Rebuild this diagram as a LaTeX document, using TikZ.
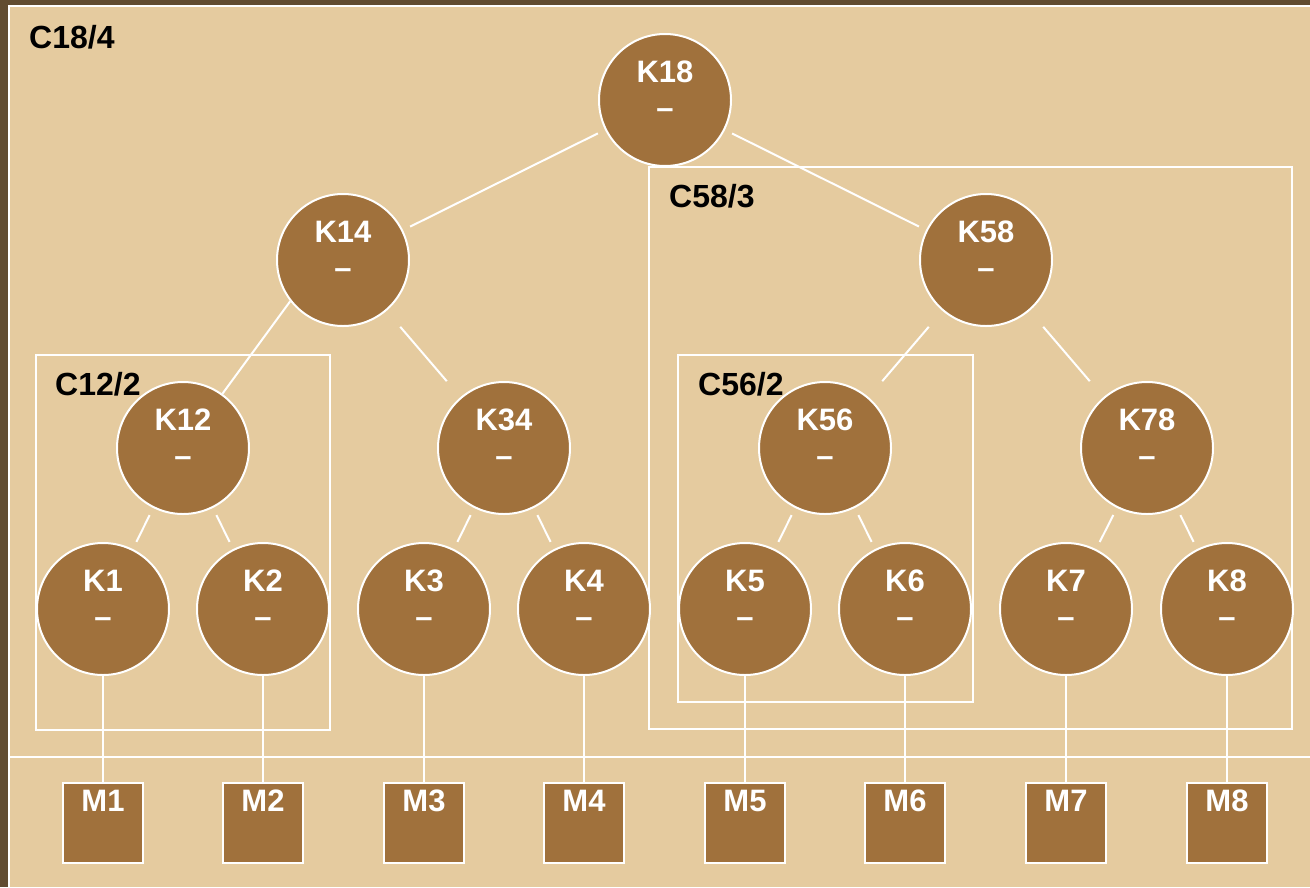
\documentclass[tikz,border=0pt]{standalone}
\usepackage{fontspec}
\setmainfont{Liberation Sans}
\usepackage{xcolor}
\usetikzlibrary{positioning}
\definecolor{bgfill}{HTML}{E5CB9F}
\definecolor{bgdraw}{HTML}{614C31}
\definecolor{knfill}{HTML}{A0713C}
\tikzset{
  knot/.style={circle, draw=white, fill=knfill, line width=2pt, minimum size=132pt, inner sep=0pt, align=center, text=white, font=\fontsize{31}{36}\selectfont\bfseries},
  mem/.style={rectangle, draw=white, fill=knfill, line width=2pt, minimum width=80pt, minimum height=80pt, inner sep=0pt, text=white, font=\fontsize{31}{36}\selectfont\bfseries},
  grp/.style={draw=white, line width=2pt},
  lab/.style={anchor=base west, inner sep=0pt, font=\fontsize{32}{36}\selectfont\bfseries},
  drop/.style={draw=white, line width=2pt},
  tie/.style={drop, shorten <=8pt, shorten >=8pt},
  tiefar/.style={drop, shorten <=21pt, shorten >=21pt},
}
\newcommand{\knlab}[1]{#1\\\textendash\rule[-20pt]{0pt}{20pt}}
\newcommand{\mlab}[1]{#1\rule[-44pt]{0pt}{44pt}}

\begin{document}
\begin{tikzpicture}[x=1pt, y=-1pt]
  \useasboundingbox (0,0) rectangle (1310,887);
  % frame and ground
  \fill[bgdraw] (0,0) rectangle (1310,887);
  \fill[bgfill] (8.5,6) rectangle (1310,887);
  \draw[white, line width=2pt] (8.5,887) -- (8.5,6) -- (1310,6);
  \draw[grp] (8.5,757) -- (1310,757);
  % clusters
  \draw[grp] (36,355) rectangle (330,730);
  \draw[grp] (649,167) rectangle (1292,729);
  \draw[grp] (678,355) rectangle (973,702);
  \node[lab] (c18) at (29,48) {C18/4};
  \node[lab] (c58) at (669,207) {C58/3};
  \node[lab] (c12) at (55,395) {C12/2};
  \node[lab] (c56) at (698,395) {C56/2};
  % inner nodes
  \node[knot] (k18) at (665,100) {\knlab{K18}};
  \node[knot] (k14) at (343,260) {\knlab{K14}};
  \node[knot] (k58) at (986,260) {\knlab{K58}};
  \node[knot] (k12) at (183,448) {\knlab{K12}};
  \node[knot] (k34) at (504,448) {\knlab{K34}};
  \node[knot] (k56) at (825,448) {\knlab{K56}};
  \node[knot] (k78) at (1147,448) {\knlab{K78}};
  % leaves and members
  \foreach \i/\x in {1/103,2/263,3/424,4/584,5/745,6/905,7/1066,8/1227} {
    \node[knot] (k\i) at (\x,609) {\knlab{K\i}};
    \node[mem, below=106pt of k\i] (m\i) {\mlab{M\i}};
    \draw[drop] (k\i) -- (m\i);
  }
  % links
  \draw[tie] (k18) -- (k14);
  \draw[tie] (k18) -- (k58);
  \draw[drop] (k14.218) -- (k12.54);
  \draw[tiefar] (k14) -- (k34);
  \draw[tiefar] (k58) -- (k56);
  \draw[tiefar] (k58) -- (k78);
  \draw[tie] (k12) -- (k1);
  \draw[tie] (k12) -- (k2);
  \draw[tie] (k34) -- (k3);
  \draw[tie] (k34) -- (k4);
  \draw[tie] (k56) -- (k5);
  \draw[tie] (k56) -- (k6);
  \draw[tie] (k78) -- (k7);
  \draw[tie] (k78) -- (k8);
\end{tikzpicture}
\end{document}
